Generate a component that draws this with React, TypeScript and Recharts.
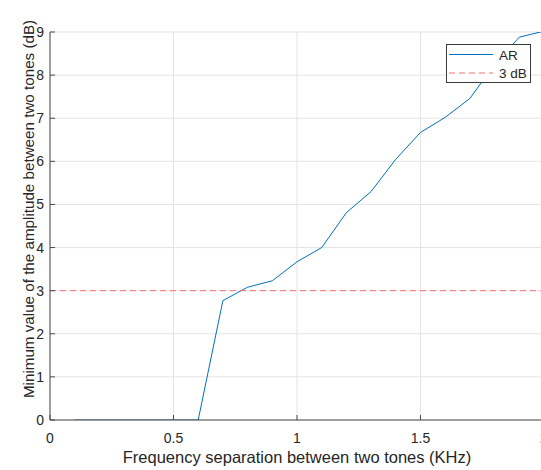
import React from 'react';
import { LineChart, Line, XAxis, YAxis, CartesianGrid, Legend } from 'recharts';

// ---- Data ----
const FREQ_KHZ = [0.1, 0.2, 0.3, 0.4, 0.5, 0.6, 0.7, 0.8, 0.9, 1.0, 1.1, 1.2, 1.3, 1.4, 1.5, 1.6, 1.7, 1.8, 1.9, 2.0];
const AR_DB = [0, 0, 0, 0, 0, 0, 2.77, 3.08, 3.23, 3.67, 4.0, 4.81, 5.3, 6.05, 6.67, 7.02, 7.46, 8.25, 8.88, 9.02];
const THRESHOLD_DB = 3;
const X_DOMAIN = [0, 2];
const X_TICKS = [0, 0.5, 1, 1.5, 2];
const Y_DOMAIN = [0, 9];
const Y_TICKS = [0, 1, 2, 3, 4, 5, 6, 7, 8, 9];
const SERIES_KEYS = ['ar', 'th'];
const SERIES_NAMES = { ar: 'AR', th: '3 dB' };
const TITLE = 'Frequency resolution AR';
const X_LABEL = 'Frequency separation between two tones (KHz)';
const Y_LABEL = 'Minimum value of the amplitude between two tones (dB)';

const arData = FREQ_KHZ.map((x, i) => ({ x, ar: AR_DB[i] }));
const thresholdData = X_DOMAIN.map((x) => ({ x, th: THRESHOLD_DB }));

// ---- Styles ----
const FONT = '"Liberation Sans", Arial, Helvetica, sans-serif';
const AXIS = '#4a4a4a';
const TEXT = '#262626';
const GRID = '#e4e4e4';
const BLUE = '#0072BD';
const RED = '#f07272';
const TICK_LEN = 5;

const BottomTick = (props: any) => {
  const { x, y, payload } = props;
  return (
    <g>
      <line x1={x} x2={x} y1={y} y2={y - TICK_LEN} stroke={AXIS} strokeWidth={1} />
      <text x={x} y={y + 23} textAnchor="middle" fontSize={14} fill={TEXT} fontFamily={FONT}>
        {String(payload.value)}
      </text>
    </g>
  );
};

const TopTick = (props: any) => {
  const { x, y } = props;
  return <line x1={x} x2={x} y1={y} y2={y + TICK_LEN} stroke={AXIS} strokeWidth={1} />;
};

const LeftTick = (props: any) => {
  const { x, y, payload } = props;
  return (
    <g>
      <line x1={x} x2={x + TICK_LEN} y1={y} y2={y} stroke={AXIS} strokeWidth={1} />
      <text x={x - 6} y={y} dy="0.36em" textAnchor="end" fontSize={14} fill={TEXT} fontFamily={FONT}>
        {String(payload.value)}
      </text>
    </g>
  );
};

const renderTitle = (p: any) => {
  const vb = p && p.viewBox ? p.viewBox : { x: 50, y: 32, width: 494, height: 0 };
  return (
    <text x={vb.x + vb.width / 2} y={vb.y - 6} textAnchor="middle" fontSize={16.5} fontWeight="bold" fill="#000" fontFamily={FONT}>
      {TITLE}
    </text>
  );
};

const renderXLabel = (p: any) => {
  const vb = p && p.viewBox ? p.viewBox : { x: 50, y: 420, width: 494, height: 50 };
  return (
    <text x={vb.x + vb.width / 2} y={vb.y + 43} textAnchor="middle" fontSize={16.5} fill={TEXT} fontFamily={FONT}>
      {X_LABEL}
    </text>
  );
};

const renderYLabel = () => {
  const cx = 33.5;
  const cy = 209;
  return (
    <text x={cx} y={cy} textAnchor="middle" fontSize={15.2} fill={TEXT} fontFamily={FONT} transform={`rotate(-90, ${cx}, ${cy})`}>
      {Y_LABEL}
    </text>
  );
};

const renderLegend = (props: any) => {
  const payload = [...(props.payload || [])].sort(
    (a: any, b: any) => SERIES_KEYS.indexOf(a.dataKey) - SERIES_KEYS.indexOf(b.dataKey)
  );
  return (
    <div
      style={{
        boxSizing: 'border-box',
        width: 85,
        height: 39,
        border: '1px solid #3a3a3a',
        background: '#fff',
      }}
    >
      <svg width={83} height={37} style={{ display: 'block' }}>
        {payload.map((entry: any, i: number) => {
          const ly = i === 0 ? 9.5 : 28;
          const dash = entry.payload && entry.payload.strokeDasharray;
          return (
            <g key={i}>
              <line x1={2} x2={46} y1={ly} y2={ly} stroke={entry.color} strokeWidth={1} strokeDasharray={dash} />
              <text x={52} y={ly + 5} fontSize={13.5} fill={TEXT} fontFamily={FONT}>
                {entry.value}
              </text>
            </g>
          );
        })}
      </svg>
    </div>
  );
};

export default function App() {
  return (
    <div
      style={{
        position: 'fixed',
        left: 0,
        top: 0,
        width: 541,
        height: 470,
        overflow: 'hidden',
        background: '#fff',
      }}
    >
      <LineChart width={560} height={470} margin={{ top: 32, right: 16, bottom: 0, left: 0 }}>
        <CartesianGrid stroke={GRID} strokeWidth={1} horizontal vertical />
        <XAxis
          xAxisId={0}
          dataKey="x"
          type="number"
          domain={X_DOMAIN}
          ticks={X_TICKS}
          allowDataOverflow
          height={50}
          tickSize={0}
          tickMargin={0}
          tickLine={false}
          tick={BottomTick}
          axisLine={{ stroke: AXIS, strokeWidth: 1 }}
          label={renderXLabel}
        />
        <XAxis
          xAxisId="top"
          orientation="top"
          dataKey="x"
          type="number"
          domain={X_DOMAIN}
          ticks={X_TICKS}
          allowDataOverflow
          height={0}
          tickSize={0}
          tickMargin={0}
          tickLine={false}
          tick={TopTick}
          axisLine={{ stroke: AXIS, strokeWidth: 1 }}
          label={renderTitle}
        />
        <YAxis
          type="number"
          domain={Y_DOMAIN}
          ticks={Y_TICKS}
          allowDataOverflow
          width={50}
          tickSize={0}
          tickMargin={0}
          tickLine={false}
          tick={LeftTick}
          axisLine={{ stroke: AXIS, strokeWidth: 1 }}
          label={renderYLabel}
        />
        <Legend
          layout="vertical"
          align="center"
          verticalAlign="middle"
          content={renderLegend}
          wrapperStyle={{ position: 'absolute', left: 446, top: 44, width: 85, height: 39 }}
        />
        <Line
          data={arData}
          dataKey="ar"
          name={SERIES_NAMES.ar}
          type="linear"
          stroke={BLUE}
          strokeWidth={1}
          dot={false}
          activeDot={false}
          isAnimationActive={false}
        />
        <Line
          data={thresholdData}
          dataKey="th"
          name={SERIES_NAMES.th}
          type="linear"
          stroke={RED}
          strokeWidth={1}
          strokeDasharray="6 4"
          dot={false}
          activeDot={false}
          isAnimationActive={false}
        />
      </LineChart>
    </div>
  );
}
